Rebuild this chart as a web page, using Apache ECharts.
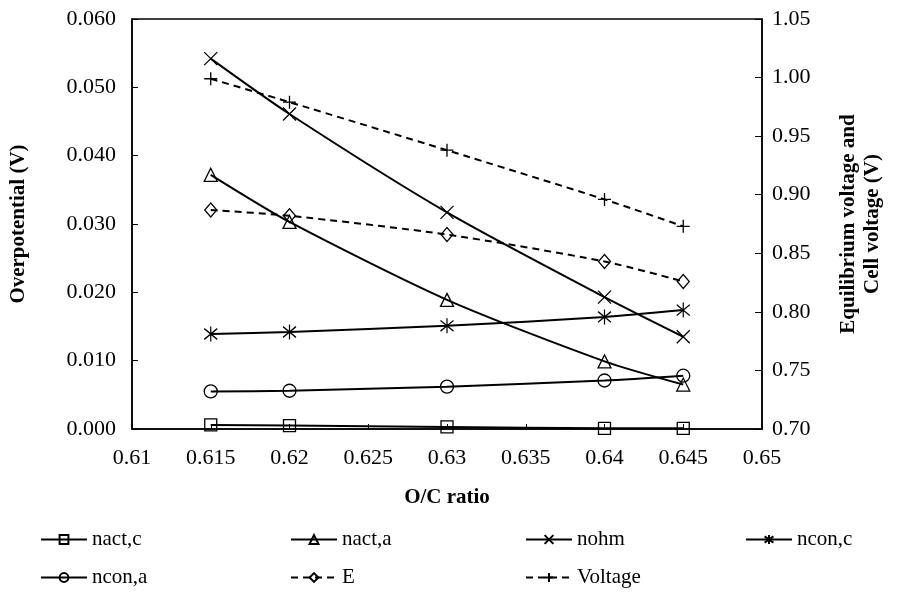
<!DOCTYPE html>
<html><head><meta charset="utf-8">
<script src="https://cdn.jsdelivr.net/npm/echarts@6/dist/echarts.min.js"></script>
<style>html,body{margin:0;padding:0;background:#fff}#c{width:904px;height:616px}</style>
</head><body><div id="c"></div>
<script>
var ratio = [0.615, 0.62, 0.63, 0.64, 0.645];
var nactC = [0.0006, 0.0005, 0.0003, 0.0001, 0.0001];
var nactA = [0.0372, 0.0303, 0.0189, 0.0099, 0.0065];
var nOhm = [0.0542, 0.0461, 0.0317, 0.0193, 0.0135];
var nconC = [0.0139, 0.0142, 0.0151, 0.0164, 0.0174];
var nconA = [0.0055, 0.0056, 0.0062, 0.0071, 0.0078];
var eqE = [0.887, 0.882, 0.866, 0.843, 0.826];
var voltage = [0.999, 0.979, 0.938, 0.896, 0.873];
var seriesNames = ['nact,c', 'nact,a', 'nohm', 'ncon,c', 'ncon,a', 'E', 'Voltage'];

var FONT = 'Liberation Serif';
var X_PATH = 'path://M0,0L10,10M0,10L10,0';
var STAR_PATH = 'path://M0,0L10,10M0,10L10,0M5,-2L5,12';
var PLUS_PATH = 'path://M5,0L5,10M0,5L10,5';

function pairs(v) { return ratio.map(function (x, i) { return [x, v[i]]; }); }
function mk(name, vals, sym, size, dashed, yIdx) {
  return {
    name: name, type: 'line', yAxisIndex: yIdx, data: pairs(vals),
    smooth: 0.25, symbol: sym, symbolSize: size, showSymbol: true,
    lineStyle: { color: '#000', width: 2, type: dashed ? [7, 5] : 'solid' },
    itemStyle: { color: 'rgba(0,0,0,0)', borderColor: '#000', borderWidth: 1.3 },
    emphasis: { disabled: true }
  };
}
var series = [
  mk(seriesNames[0], nactC, 'rect', 12, false, 0),
  mk(seriesNames[1], nactA, 'triangle', 13, false, 0),
  mk(seriesNames[2], nOhm, X_PATH, 13, false, 0),
  mk(seriesNames[3], nconC, STAR_PATH, [13, 15], false, 0),
  mk(seriesNames[4], nconA, 'circle', 13, false, 0),
  mk(seriesNames[5], eqE, 'diamond', [12, 14], true, 1),
  mk(seriesNames[6], voltage, PLUS_PATH, 13, true, 1)
];
var legendPos = [[35, 524], [285, 524], [520, 524], [740, 524], [35, 562], [285, 562], [520, 562]];
var legends = seriesNames.map(function (n, i) {
  return {
    data: [n], left: legendPos[i][0], top: legendPos[i][1], itemWidth: 46, itemHeight: 11,
    textStyle: { fontFamily: FONT, fontSize: 21, color: '#000' }, selectedMode: false
  };
});
var chart = echarts.init(document.getElementById('c'), null, { renderer: 'canvas' });
chart.setOption({
  animation: false,
  textStyle: { fontFamily: FONT },
  grid: { left: 125, right: 142, top: 19, bottom: 187, show: true, borderColor: '#000', borderWidth: 1.5 },
  legend: legends,
  xAxis: {
    type: 'value', min: 0.61, max: 0.65, interval: 0.005,
    name: 'O/C ratio', nameLocation: 'middle', nameGap: 58,
    nameTextStyle: { fontFamily: FONT, fontSize: 21, fontWeight: 'bold', color: '#000' },
    axisLine: { lineStyle: { color: '#000', width: 1.5 } },
    axisTick: { inside: true, length: 5, lineStyle: { color: '#000' } },
    splitLine: { show: false },
    axisLabel: { fontFamily: FONT, fontSize: 22, color: '#000', margin: 18,
      formatter: function (v) { return String(+v.toFixed(3)); } }
  },
  yAxis: [{
    type: 'value', min: 0, max: 0.06, interval: 0.01, position: 'left',
    name: 'Overpotential (V)', nameLocation: 'middle', nameGap: 103,
    nameTextStyle: { fontFamily: FONT, fontSize: 21, fontWeight: 'bold', color: '#000' },
    axisLine: { show: true, lineStyle: { color: '#000', width: 1.5 } },
    axisTick: { show: true, inside: true, length: 6, lineStyle: { color: '#000' } },
    splitLine: { show: false },
    axisLabel: { fontFamily: FONT, fontSize: 22, color: '#000', margin: 16,
      formatter: function (v) { return v.toFixed(3); } }
  }, {
    type: 'value', min: 0.7, max: 1.05, interval: 0.05, position: 'right',
    name: 'Equilibrium voltage and\nCell voltage (V)', nameLocation: 'middle', nameGap: 75, nameRotate: 90,
    nameTextStyle: { fontFamily: FONT, fontSize: 21, fontWeight: 'bold', color: '#000', lineHeight: 24 },
    axisLine: { show: true, lineStyle: { color: '#000', width: 1.5 } },
    axisTick: { show: true, inside: true, length: 7, lineStyle: { color: '#000' } },
    splitLine: { show: false },
    axisLabel: { fontFamily: FONT, fontSize: 22, color: '#000', margin: 10,
      formatter: function (v) { return v.toFixed(2); } }
  }],
  series: series
});
</script></body></html>
